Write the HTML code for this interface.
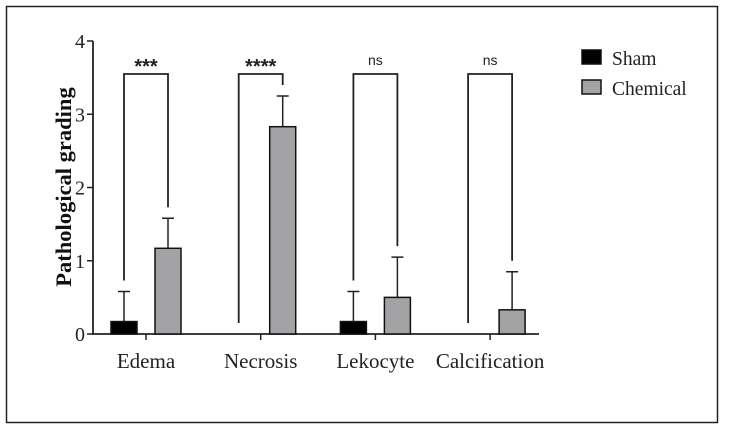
<!DOCTYPE html>
<html><head><meta charset="utf-8"><style>
body{margin:0;background:#fff;}
svg{display:block;font-family:"Liberation Serif",serif;}
</style></head><body>
<svg id="c" width="729" height="432">
<rect x="6.5" y="6.5" width="711" height="416" fill="#fff" stroke="#222" stroke-width="1.5"/>
</svg>
<script>
const categories=["Edema","Necrosis","Lekocyte","Calcification"];
const shamValues=[0.17,0,0.17,0];
const shamErrors=[0.41,0,0.41,0];
const chemValues=[1.17,2.83,0.5,0.33];
const chemErrors=[0.41,0.42,0.55,0.52];
const sigLabels=["***","****","ns","ns"];
const yTicks=[0,1,2,3,4];
const svg=document.getElementById('c');
const NS='http://www.w3.org/2000/svg';
const y0=334,yPer=73.25,x0=146,xStep=114.7,off=22,bw=26;
const Y=v=>y0-v*yPer;
const X=i=>x0+i*xStep;
function mk(t,a,p){const e=document.createElementNS(NS,t);for(const k in a)e.setAttribute(k,a[k]);(p||svg).appendChild(e);return e;}
let ax=mk('line',{x1:93,y1:Y(4),x2:93,y2:y0+0.75,stroke:'#222','stroke-width':1.8});


let xa=mk('line',{x1:92,y1:y0,x2:539,y2:y0,stroke:'#222','stroke-width':1.8});


yTicks.forEach(v=>{
  const t=mk('line',{x1:87,y1:Y(v),x2:93,y2:Y(v),stroke:'#222','stroke-width':1.5});
  
  
  const l=mk('text',{x:85,y:Y(v)+7,'text-anchor':'end','font-size':20,fill:'#222'});
  l.textContent=v;
  
  
});
const yt=mk('text',{x:0,y:0,transform:'translate(71,187) rotate(-90)','text-anchor':'middle','font-size':22.5,'font-weight':'bold',fill:'#111'});
yt.textContent='Pathological grading';


categories.forEach((c,i)=>{
  const cx=X(i);
  const tk=mk('line',{x1:cx,y1:y0,x2:cx,y2:y0+6,stroke:'#222','stroke-width':1.5});
  
  
  const tl=mk('text',{x:cx,y:y0+34,'text-anchor':'middle','font-size':21,fill:'#222'});
  tl.textContent=c;
  
  
  const sx=cx-off,chx=cx+off;
  if(shamValues[i]>0){
    const b=mk('rect',{x:sx-bw/2,y:Y(shamValues[i]),width:bw,height:y0-Y(shamValues[i]),fill:'#000',stroke:'#111','stroke-width':1.5});
    
    
  }
  if(shamErrors[i]>0){
    const top=Y(shamValues[i]+shamErrors[i]);
    const e=mk('path',{d:`M${sx},${Y(shamValues[i])}V${top}M${sx-6},${top}H${sx+6}`,stroke:'#222','stroke-width':1.5,fill:'none'});
    
    
  }
  const cb=mk('rect',{x:chx-bw/2,y:Y(chemValues[i]),width:bw,height:y0-Y(chemValues[i]),fill:'#a3a3a6',stroke:'#111','stroke-width':1.5});
  
  
  const ctop=Y(chemValues[i]+chemErrors[i]);
  const ce=mk('path',{d:`M${chx},${Y(chemValues[i])}V${ctop}M${chx-6},${ctop}H${chx+6}`,stroke:'#222','stroke-width':1.5,fill:'none'});
  
  
  const lTop=(shamValues[i]+shamErrors[i])+0.15, rTop=(chemValues[i]+chemErrors[i])+0.15;
  const bt=Y(3.55);
  const br=mk('path',{d:`M${sx},${Y(lTop)}V${bt}H${chx}V${Y(rTop)}`,stroke:'#222','stroke-width':1.8,fill:'none'});
  
  
  const ns=sigLabels[i]==='ns';
  const sl=mk('text',{x:cx,y:ns?bt-9:bt-1,'text-anchor':'middle','font-size':ns?14:20,'font-weight':ns?'normal':'bold',fill:'#222','font-family':'"Liberation Sans",sans-serif'});
  sl.textContent=sigLabels[i];
  
  
});
[['Sham','#000'],['Chemical','#a3a3a6']].forEach((d,k)=>{
  const yy=50+k*30;
  const g=mk('g',{});
  
  
  mk('rect',{x:582,y:yy,width:19,height:14,fill:d[1],stroke:'#111','stroke-width':1.5},g);
  const t=mk('text',{x:612,y:yy+15,'font-size':19.5,fill:'#222'},g);
  t.textContent=d[0];
});
</script>
</body></html>
